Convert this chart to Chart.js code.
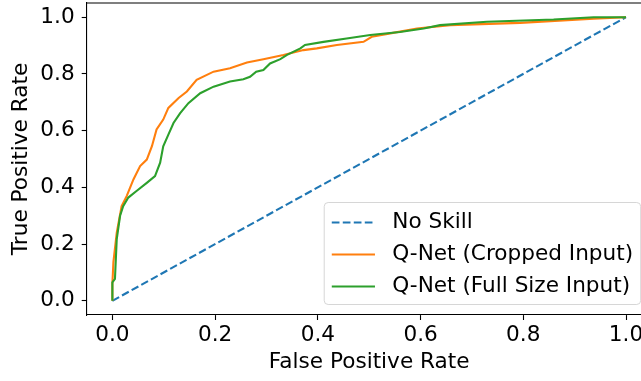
<!DOCTYPE html>
<html><head><meta charset="utf-8">
<script src="https://cdn.jsdelivr.net/npm/chart.js@4"></script>
<style>
html,body{margin:0;padding:0;overflow:hidden;background:#fff}
#wrap{position:absolute;left:0;top:0;width:680px;height:381px}
</style>
</head><body><div id="wrap"><canvas id="c"></canvas></div>
<script>
const axisTicks = [0, 0.2, 0.4, 0.6, 0.8, 1.0];
const seriesLabels = ['No Skill', 'Q-Net (Cropped Input)', 'Q-Net (Full Size Input)'];
const xTitle = 'False Positive Rate';
const yTitle = 'True Positive Rate';

const noSkillFpr = [0, 1];
const noSkillTpr = [0, 1];

const croppedFpr = [0, 0, 0.002, 0.0085, 0.018, 0.028, 0.041, 0.054, 0.067, 0.077, 0.086, 0.099, 0.109, 0.129, 0.145, 0.164, 0.197, 0.229, 0.262, 0.294, 0.333, 0.372, 0.398, 0.437, 0.489, 0.505, 0.541, 0.593, 0.658, 0.794, 0.937, 1];
const croppedTpr = [0, 0.06, 0.137, 0.24, 0.334, 0.37, 0.428, 0.475, 0.498, 0.545, 0.604, 0.639, 0.68, 0.715, 0.738, 0.779, 0.808, 0.82, 0.84, 0.852, 0.867, 0.884, 0.89, 0.902, 0.913, 0.931, 0.943, 0.96, 0.972, 0.98, 0.995, 1];

const fullFpr = [0, 0, 0.005, 0.0085, 0.015, 0.021, 0.031, 0.047, 0.067, 0.083, 0.093, 0.099, 0.109, 0.119, 0.132, 0.148, 0.171, 0.197, 0.229, 0.255, 0.268, 0.28, 0.294, 0.307, 0.327, 0.34, 0.366, 0.375, 0.411, 0.456, 0.502, 0.56, 0.606, 0.638, 0.729, 0.859, 0.937, 1];
const fullTpr = [0, 0.065, 0.077, 0.218, 0.30, 0.334, 0.364, 0.387, 0.416, 0.44, 0.487, 0.545, 0.586, 0.627, 0.662, 0.697, 0.732, 0.755, 0.773, 0.781, 0.79, 0.808, 0.814, 0.837, 0.852, 0.867, 0.89, 0.902, 0.913, 0.925, 0.937, 0.948, 0.96, 0.972, 0.984, 0.992, 1.0, 1];

const FS = 21.6;
Chart.defaults.font.family = "'DejaVu Sans', sans-serif";
Chart.defaults.font.size = FS;
Chart.defaults.color = '#000';

const pts = (xs, ys) => xs.map((x, i) => ({x: x, y: ys[i]}));

const framePlugin = {
  id: 'frame',
  afterDatasetsDraw(chart) {
    const {ctx, chartArea: a} = chart;
    ctx.save();
    ctx.strokeStyle = '#000';
    ctx.lineWidth = 1.1;
    ctx.beginPath();
    ctx.moveTo(a.left, a.top); ctx.lineTo(a.right, a.top); ctx.lineTo(a.right, a.bottom);
    ctx.stroke();
    ctx.restore();
  }
};

const legendPlugin = {
  id: 'mplLegend',
  afterDraw(chart) {
    const {ctx, chartArea: a} = chart;
    const ds = chart.data.datasets;
    ctx.save();
    ctx.font = FS + "px 'DejaVu Sans'";
    let maxW = 0;
    ds.forEach(d => { maxW = Math.max(maxW, ctx.measureText(d.label).width); });
    const pad = 0.35 * FS, handle = 2 * FS, tpad = 0.8 * FS, rowH = 32;
    const w = pad + handle + tpad + maxW + pad;
    const h = 102;
    const right = a.right - 11, bottom = a.bottom - 10.5;
    const left = right - w, top = bottom - h;
    ctx.beginPath();
    ctx.roundRect(left, top, w, h, 4);
    ctx.fillStyle = 'rgba(255,255,255,0.8)';
    ctx.fill();
    ctx.strokeStyle = 'rgba(204,204,204,0.8)';
    ctx.lineWidth = 1;
    ctx.stroke();
    ds.forEach((d, i) => {
      const cy = top + 20 + i * rowH;
      ctx.beginPath();
      ctx.setLineDash(d.borderDash || []);
      ctx.strokeStyle = d.borderColor;
      ctx.lineWidth = d.borderWidth;
      ctx.moveTo(left + pad, cy); ctx.lineTo(left + pad + handle, cy);
      ctx.stroke();
      ctx.setLineDash([]);
      ctx.fillStyle = '#000';
      ctx.textBaseline = 'middle';
      ctx.textAlign = 'left';
      ctx.fillText(d.label, left + pad + handle + tpad, cy);
    });
    ctx.restore();
  }
};

const axisCommon = {
  type: 'linear', min: -0.05, max: 1.05,
  afterBuildTicks: s => { s.ticks = axisTicks.map(v => ({value: v})); },
  grid: {drawOnChartArea: false, drawTicks: true, tickLength: 5, tickColor: '#000', tickWidth: 1.1},
  border: {display: true, color: '#000', width: 1.1}
};

new Chart(document.getElementById('c'), {
  type: 'scatter',
  data: {
    datasets: [
      {label: seriesLabels[0], data: pts(noSkillFpr, noSkillTpr), showLine: true, borderColor: '#1f77b4', borderDash: [7.7, 3.3], borderWidth: 2.1, pointRadius: 0, order: 2},
      {label: seriesLabels[1], data: pts(croppedFpr, croppedTpr), showLine: true, borderColor: '#ff7f0e', borderWidth: 2.1, pointRadius: 0, order: 1},
      {label: seriesLabels[2], data: pts(fullFpr, fullTpr), showLine: true, borderColor: '#2ca02c', borderWidth: 2.1, pointRadius: 0, order: 0}
    ]
  },
  options: {
    responsive: true, maintainAspectRatio: false, animation: false,
    layout: {padding: {left: 0, top: 3, right: 28.3, bottom: 0}},
    plugins: {legend: {display: false}, tooltip: {enabled: false}},
    scales: {
      x: Object.assign({}, axisCommon, {
        position: 'bottom',
        afterFit: s => { s.height = 66; s.paddingLeft = 0; s.paddingRight = 0; },
        ticks: {callback: v => v.toFixed(1), padding: 2, maxRotation: 0, autoSkip: false, color: '#000'},
        title: {display: true, text: xTitle, padding: {top: 0, bottom: 6}, color: '#000'}
      }),
      y: Object.assign({}, axisCommon, {
        position: 'left',
        afterFit: s => { s.width = 86.7; s.paddingTop = 0; s.paddingBottom = 0; },
        ticks: {callback: v => v.toFixed(1), padding: 7, autoSkip: false, color: '#000'},
        title: {display: true, text: yTitle, padding: {top: 8, bottom: 0}, color: '#000'}
      })
    }
  },
  plugins: [framePlugin, legendPlugin]
});
</script>
</body></html>
